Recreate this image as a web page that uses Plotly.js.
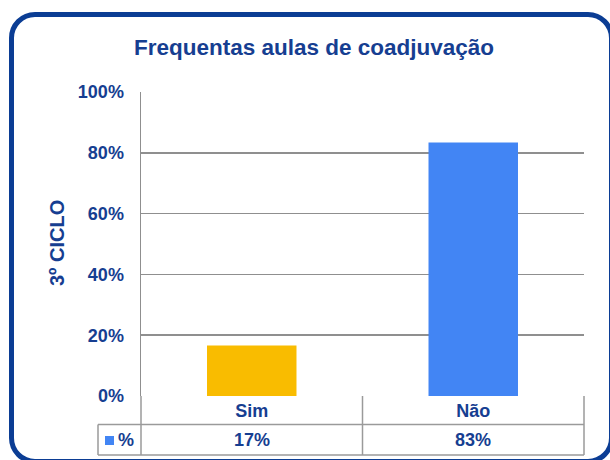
<!DOCTYPE html>
<html>
<head>
<meta charset="utf-8">
<script src="https://cdn.plot.ly/plotly-3.0.1.min.js"></script>
<style>
  html, body { margin: 0; padding: 0; background: #ffffff; overflow: hidden; }
  #wrap { position: relative; width: 610px; height: 460px; }
  #frame { position: absolute; left: 9px; top: 12px; width: 605px; height: 452px;
           box-sizing: border-box; border: 5px solid #0b3d94; border-radius: 26px;
           pointer-events: none; }
  #chart { position: absolute; left: 0; top: 0; width: 610px; height: 460px; }
</style>
</head>
<body>
<div id="wrap">
  <div id="chart"></div>
  <div id="frame"></div>
</div>
<script>
// ---- data ----
const categories = ['Sim', 'Não'];
const percentValues = [16.6, 83.4];
const barColors = ['#f9bc00', '#4285f4'];
const seriesName = '%';
const yTickValues = [0, 20, 40, 60, 80, 100];
const yTickLabels = ['0%', '20%', '40%', '60%', '80%', '100%'];
const chartTitle = 'Frequentas aulas de coadjuvação';
const yTitle = '3º CICLO';

// ---- layout helpers ----
const W = 610, H = 460;
const M = { l: 141, r: 26, t: 92, b: 64 };
const PW = W - M.l - M.r, PH = H - M.t - M.b;
const px2x = px => (px - M.l) / PW;          // pixel x -> paper x
const py2y = py => (H - M.b - py) / PH;      // pixel y -> paper y

const navy = '#163e91';
const gridGrey = '#8f8f8f';
const tableGrey = '#9a9a9a';
const FONT = 'Arial, "Liberation Sans", sans-serif';

const valueLabels = percentValues.map(v => Math.round(v) + '%');

const trace = {
  type: 'bar',
  x: categories,
  y: percentValues,
  name: seriesName,
  marker: { color: barColors, line: { width: 0 } },
  hoverinfo: 'none'
};

// table geometry (pixels)
const rowMid = 424.5;
const rowBot = 455;
const tableLeft = 98;
const lineStyle = { color: tableGrey, width: 1.5 };

const shapes = [
  { type: 'line', xref: 'paper', yref: 'paper', x0: px2x(tableLeft), x1: 1, y0: py2y(rowMid), y1: py2y(rowMid), line: lineStyle },
  { type: 'line', xref: 'paper', yref: 'paper', x0: px2x(tableLeft), x1: 1, y0: py2y(rowBot), y1: py2y(rowBot), line: lineStyle },
  { type: 'line', xref: 'paper', yref: 'paper', x0: 0, x1: 0, y0: 0, y1: py2y(rowBot), line: lineStyle },
  { type: 'line', xref: 'paper', yref: 'paper', x0: 1, x1: 1, y0: 0, y1: py2y(rowBot), line: lineStyle },
  { type: 'line', xref: 'x', yref: 'paper', x0: 0.5, x1: 0.5, y0: 0, y1: py2y(rowBot), line: lineStyle },
  { type: 'line', xref: 'paper', yref: 'paper', x0: px2x(tableLeft), x1: px2x(tableLeft), y0: py2y(rowMid), y1: py2y(rowBot), line: lineStyle },
  { type: 'rect', xref: 'paper', yref: 'paper', x0: px2x(105), x1: px2x(114), y0: py2y(445), y1: py2y(436),
    fillcolor: barColors[1], line: { width: 0 } }
];

const annotations = [
  { xref: 'paper', yref: 'paper', x: px2x(57), y: py2y(243), text: '<b>' + yTitle + '</b>', textangle: -90,
    showarrow: false, xanchor: 'center', yanchor: 'middle', font: { family: FONT, size: 20, color: navy } },
  { xref: 'paper', yref: 'paper', x: px2x(126), y: py2y(440), text: '<b>' + seriesName + '</b>',
    showarrow: false, xanchor: 'center', yanchor: 'middle', font: { family: FONT, size: 18, color: navy } }
].concat(categories.map((c, i) => ({
  xref: 'x', yref: 'paper', x: c, y: py2y(440), text: '<b>' + valueLabels[i] + '</b>',
  showarrow: false, xanchor: 'center', yanchor: 'middle', font: { family: FONT, size: 18, color: navy }
})));

const layout = {
  width: W, height: H,
  margin: M,
  paper_bgcolor: 'rgba(0,0,0,0)',
  plot_bgcolor: '#ffffff',
  showlegend: false,
  bargap: 0.596,
  title: {
    text: '<b>' + chartTitle + '</b>',
    xref: 'container', yref: 'container',
    x: 314 / W, xanchor: 'center',
    y: 1 - 47 / H, yanchor: 'middle',
    font: { family: FONT, size: 22.5, color: navy }
  },
  xaxis: {
    type: 'category',
    categoryorder: 'array', categoryarray: categories,
    range: [-0.5, 1.5],
    showgrid: false, zeroline: false, showline: false,
    ticks: '',
    tickfont: { family: FONT, size: 18, color: navy, weight: 'bold' },
    ticklabelstandoff: 2
  },
  yaxis: {
    range: [0, 100],
    tickvals: yTickValues, ticktext: yTickLabels,
    showgrid: true, gridcolor: gridGrey, gridwidth: 1.5,
    zeroline: false,
    showline: true, linecolor: gridGrey, linewidth: 1.5,
    ticks: '',
    tickfont: { family: FONT, size: 18, color: navy, weight: 'bold' },
    ticklabelstandoff: 12
  },
  shapes: shapes,
  annotations: annotations
};

Plotly.newPlot('chart', [trace], layout, { staticPlot: true, displayModeBar: false });
</script>
</body>
</html>
